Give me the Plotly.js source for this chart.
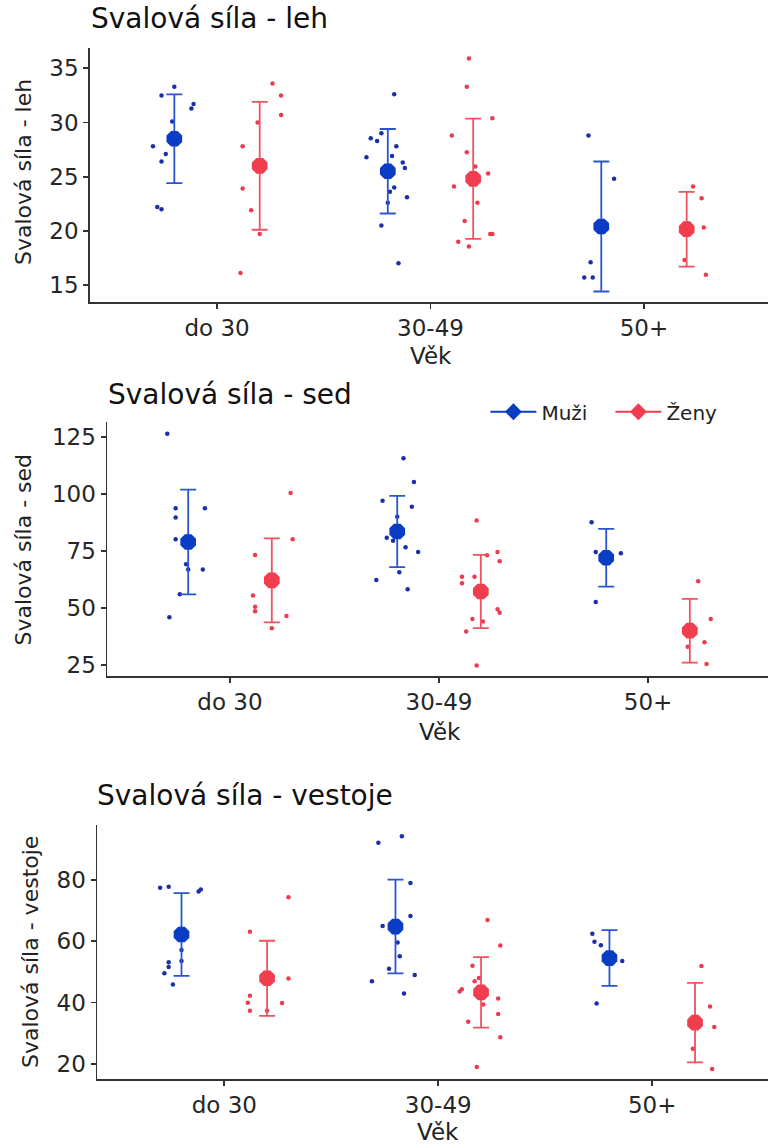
<!DOCTYPE html>
<html><head><meta charset="utf-8">
<script src="https://cdn.plot.ly/plotly-3.0.1.min.js"></script>
<style>html,body{margin:0;padding:0;background:#fff;overflow:hidden}#chart{width:768px;height:1145px}</style>
</head><body><div id="chart"></div>
<script>
// ---- data ----
const categories = ["do 30", "30-49", "50+"];
const sexes = ["Muži", "Ženy"];

// Svalová síla - leh
const lehMuziVals = [[33.3,32.5,31.7,31.3,30.1,27.8,27.1,26.4,22.2,22.0],
  [32.6,29.0,28.55,28.3,27.8,26.8,26.9,26.3,25.8,24.0,23.6,23.1,22.6,20.5,17.0],
  [28.8,24.8,17.1,15.7,15.7]];
const lehMuziJit = [[0,-0.06,0.09,0.08,-0.01,-0.10,-0.04,-0.06,-0.08,-0.06],
  [0.03,-0.03,-0.08,-0.05,0.04,-0.10,0.02,0.07,0.08,0.03,0.01,0.09,0.00,-0.03,0.05],
  [-0.06,0.06,-0.05,-0.08,-0.04]];
const lehMuziMean = [28.5, 25.5, 20.4];
const lehMuziSD = [4.1, 3.9, 6.0];
const lehZenyVals = [[33.6,32.5,30.7,30.0,27.8,23.9,21.9,19.7,16.1],
  [35.9,33.3,30.4,28.8,27.25,25.95,25.3,24.1,22.6,20.9,19.0,18.55,19.7,19.7],
  [24.1,23.0,20.3,17.3,15.95]];
const lehZenyJit = [[0.06,0.10,0.10,-0.01,-0.08,-0.08,-0.04,0.00,-0.09],
  [-0.02,-0.03,0.09,-0.10,-0.03,0.01,0.07,-0.09,0.02,-0.04,-0.07,-0.02,0.08,0.09],
  [0.03,0.07,0.08,-0.01,0.09]];
const lehZenyMean = [26.0, 24.8, 20.15];
const lehZenySD = [5.9, 5.55, 3.45];

// Svalová síla - sed
const sedMuziVals = [[126.3,93.6,93.6,89.5,80.0,69.0,66.8,66.8,55.9,45.8],
  [115.5,105.1,96.9,94.3,89.9,80.7,79.3,76.5,74.4,65.5,62.1,58.1],
  [87.5,74.4,73.9,52.5,72.0]];
const sedMuziJit = [[-0.10,-0.06,0.08,-0.06,-0.06,-0.01,0.00,0.07,-0.04,-0.09],
  [0.03,0.08,-0.07,0.07,0.00,-0.05,-0.02,0.04,0.10,0.01,-0.10,0.05],
  [-0.07,-0.05,0.07,-0.05,0.01]];
const sedMuziMean = [78.8, 83.4, 71.9];
const sedMuziSD = [23.0, 15.6, 12.7];
const sedZenyVals = [[100.3,80.0,73.1,55.3,50.4,48.4,46.4,41.0],
  [88.2,74.4,70.4,73.0,63.6,63.6,60.7,49.3,47.8,45.0,43.9,39.6,24.6],
  [61.6,45.0,34.8,32.9,25.3]];
const sedZenyJit = [[0.09,0.10,-0.08,-0.09,-0.08,-0.08,0.07,0.00],
  [-0.02,0.08,0.09,0.03,-0.09,-0.03,-0.09,0.08,0.09,-0.04,0.01,-0.07,-0.02],
  [0.04,0.10,0.07,-0.01,0.08]];
const sedZenyMean = [62.0, 57.1, 39.9];
const sedZenySD = [18.4, 16.1, 14.0];

// Svalová síla - vestoje
const vesMuziVals = [[77.5,77.8,76.2,76.9,57.1,53.1,53.5,51.6,49.5,45.9],
  [92.2,94.3,79.0,68.2,65.0,59.6,55.1,51.0,49.0,46.9,42.9],
  [62.4,59.8,58.7,53.5,39.7]];
const vesMuziJit = [[-0.10,-0.06,0.08,0.09,0.00,-0.06,0.00,-0.06,-0.08,-0.04],
  [-0.08,0.03,0.07,0.07,-0.06,0.01,0.02,-0.03,0.09,-0.11,0.04],
  [-0.08,-0.07,-0.04,0.06,-0.06]];
const vesMuziMean = [62.2, 64.8, 54.5];
const vesMuziSD = [13.5, 15.3, 9.1];
const vesZenyVals = [[74.4,63.1,47.8,42.2,39.9,39.8,37.3,37.3],
  [66.9,58.6,52.0,48.0,46.9,44.3,43.6,41.3,39.3,36.2,33.7,28.6,18.9],
  [51.9,38.7,32.0,24.9,18.3]];
const vesZenyJit = [[0.10,-0.08,0.10,-0.08,-0.09,0.07,-0.08,0.00],
  [0.03,0.09,-0.04,-0.01,-0.03,-0.09,-0.10,0.08,0.01,0.08,-0.06,0.09,-0.02],
  [0.03,0.07,0.09,-0.01,0.08]];
const vesZenyMean = [47.9, 43.3, 33.4];
const vesZenySD = [12.25, 11.5, 13.0];

const panelTitles = ["Svalová síla - leh", "Svalová síla - sed", "Svalová síla - vestoje"];
const yTitles = ["Svalová síla - leh", "Svalová síla - sed", "Svalová síla - vestoje"];
const xTitle = "Věk";
const yTicks = [[15,20,25,30,35],[25,50,75,100,125],[20,40,60,80]];

// ---- styling ----
const FONT = "DejaVu Sans";
const meanColor = {"Muži": "#0b3cc4", "Ženy": "#f03e4e"};
const barColor = {"Muži": "#2a55d0", "Ženy": "#f0525f"};
const ptColor = {"Muži": "#1a30a8", "Ženy": "#ec3a50"};
const dodge = {"Muži": -0.2, "Ženy": 0.2};

const panels = [
  {ax: "", data: {"Muži": [lehMuziVals, lehMuziJit, lehMuziMean, lehMuziSD], "Ženy": [lehZenyVals, lehZenyJit, lehZenyMean, lehZenySD]},
   xdom: [90/768, 1], ydom: [1-301.7/1145, 1-48.3/1145], xr: [0.405, 3.581], yr: [13.46, 36.85]},
  {ax: "2", data: {"Muži": [sedMuziVals, sedMuziJit, sedMuziMean, sedMuziSD], "Ženy": [sedZenyVals, sedZenyJit, sedZenyMean, sedZenySD]},
   xdom: [107.3/768, 1], ydom: [1-676/1145, 1-422.3/1145], xr: [0.413, 3.574], yr: [20.04, 131.3]},
  {ax: "3", data: {"Muži": [vesMuziVals, vesMuziJit, vesMuziMean, vesMuziSD], "Ženy": [vesZenyVals, vesZenyJit, vesZenyMean, vesZenySD]},
   xdom: [97.3/768, 1], ydom: [1-1079/1145, 1-825/1145], xr: [0.4065, 3.541], yr: [15.0, 97.96]}
];

const traces = [];
const layout = {
  width: 768, height: 1145, autosize: false,
  margin: {l: 0, r: 0, t: 0, b: 0},
  paper_bgcolor: "#fff", plot_bgcolor: "#fff",
  font: {family: FONT, color: "#222"},
  showlegend: true,
  legend: {orientation: "h", x: 0.632, xanchor: "left", y: 1-411.7/1145, yanchor: "middle",
    font: {family: FONT, size: 20, color: "#222"}, bgcolor: "rgba(0,0,0,0)", itemwidth: 46,
    entrywidth: 64, entrywidthmode: "pixels", traceorder: "normal"},
  annotations: []
};

panels.forEach((p, pi) => {
  const xa = "x" + p.ax, ya = "y" + p.ax;
  sexes.forEach(s => {
    const [vals, jit, means, sds] = p.data[s];
    const px = [], py = [];
    vals.forEach((grp, gi) => grp.forEach((v, j) => { px.push(gi + 1 + dodge[s] + jit[gi][j]); py.push(v); }));
    traces.push({type: "scatter", mode: "markers", x: px, y: py, xaxis: xa, yaxis: ya, showlegend: false,
      marker: {color: ptColor[s], size: 4.5}, hoverinfo: "y"});
    traces.push({type: "scatter", mode: "markers", x: categories.map((c, i) => i + 1 + dodge[s]), y: means,
      xaxis: xa, yaxis: ya, showlegend: false,
      error_y: {type: "data", array: sds, visible: true, color: barColor[s], thickness: 1.8, width: 8},
      marker: {color: meanColor[s], size: 17, symbol: "octagon"}});
  });
  const axBase = {showline: true, linecolor: "#333", linewidth: 1.8, ticks: "outside", ticklen: 5, tickwidth: 1.8,
    tickcolor: "#333", showgrid: false, zeroline: false, fixedrange: true,
    tickfont: {family: FONT, size: 23, color: "#262626"}};
  layout["xaxis" + p.ax] = Object.assign({}, axBase, {domain: p.xdom, range: p.xr, anchor: ya,
    tickmode: "array", tickvals: [1, 2, 3], ticktext: categories});
  layout["yaxis" + p.ax] = Object.assign({}, axBase, {domain: p.ydom, range: p.yr, anchor: xa,
    tickmode: "array", tickvals: yTicks[pi], ticktext: yTicks[pi].map(String)});
});

// legend entries
sexes.forEach(s => traces.push({type: "scatter", mode: "lines+markers", x: [null], y: [null], xaxis: "x2", yaxis: "y2",
  name: s, line: {color: meanColor[s], width: 2}, marker: {color: meanColor[s], size: 13, symbol: "diamond"}}));

// titles
const titlePos = [[89/768, 1-18.8/1145], [106/768, 1-394.2/1145], [95/768, 1-795.8/1145]];
const yTitlePos = [[23/768, 1-172/1145], [23/768, 1-549.5/1145], [30/768, 1-952/1145]];
const xTitlePos = [[430.8/768, 1-356/1145], [439.5/768, 1-732/1145], [438.3/768, 1-1132/1145]];
panelTitles.forEach((t, i) => {
  layout.annotations.push({text: t, xref: "paper", yref: "paper", x: titlePos[i][0], y: titlePos[i][1],
    xanchor: "left", yanchor: "middle", showarrow: false, font: {family: FONT, size: 28, color: "#111"}});
  layout.annotations.push({text: yTitles[i], xref: "paper", yref: "paper", x: yTitlePos[i][0], y: yTitlePos[i][1],
    xanchor: "center", yanchor: "middle", textangle: -90, showarrow: false, font: {family: FONT, size: 22, color: "#222"}});
  layout.annotations.push({text: xTitle, xref: "paper", yref: "paper", x: xTitlePos[i][0], y: xTitlePos[i][1],
    xanchor: "center", yanchor: "middle", showarrow: false, font: {family: FONT, size: 23, color: "#222"}});
});

Plotly.newPlot("chart", traces, layout, {staticPlot: true, displayModeBar: false});
</script></body></html>
